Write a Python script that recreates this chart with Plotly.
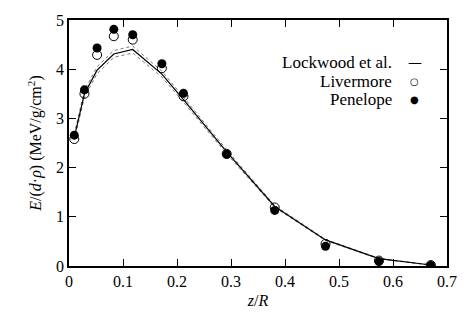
import plotly.graph_objects as go

z = [0.0098, 0.0286, 0.052, 0.083, 0.118, 0.172, 0.212, 0.292, 0.381, 0.475, 0.574, 0.670]
lockwood = [2.62, 3.50, 3.98, 4.31, 4.40, 3.90, 3.38, 2.32, 1.21, 0.53, 0.15, 0.02]
lock_err = [0.06, 0.07, 0.07, 0.07, 0.07, 0.06, 0.05, 0.04, 0.02, 0.01, 0.005, 0.002]
livermore = [2.58, 3.50, 4.29, 4.67, 4.60, 4.02, 3.45, 2.28, 1.19, 0.45, 0.11, 0.02]
penelope = [2.66, 3.58, 4.43, 4.81, 4.70, 4.11, 3.51, 2.27, 1.13, 0.40, 0.09, 0.01]
x_ticks = [0, 0.1, 0.2, 0.3, 0.4, 0.5, 0.6, 0.7]
x_ticklabels = ["0", "0.1", "0.2", "0.3", "0.4", "0.5", "0.6", "0.7"]
y_ticks = [0, 1, 2, 3, 4, 5]
y_ticklabels = ["0", "1", "2", "3", "4", "5"]
legend_names = ["Lockwood et al.", "Livermore", "Penelope"]
legend_syms = ["—", "○", "●"]

FONT = "Liberation Serif"

fig = go.Figure()
upper = [v + e for v, e in zip(lockwood, lock_err)]
lower = [v - e for v, e in zip(lockwood, lock_err)]
for band in (upper, lower):
    fig.add_trace(go.Scatter(x=z, y=band, mode="lines",
                             line=dict(color="#777777", width=1, dash="dot"),
                             showlegend=False, hoverinfo="skip"))
fig.add_trace(go.Scatter(x=z, y=lockwood, mode="lines",
                         line=dict(color="black", width=1.2), showlegend=False))
fig.add_trace(go.Scatter(x=z, y=livermore, mode="markers",
                         marker=dict(symbol="circle-open", size=9, color="black",
                                     line=dict(width=1, color="black")),
                         showlegend=False))
fig.add_trace(go.Scatter(x=z, y=penelope, mode="markers",
                         marker=dict(symbol="circle", size=9, color="black"),
                         showlegend=False))

rows_y = [0.829, 0.751, 0.678]
for name, sym, yy in zip(legend_names, legend_syms, rows_y):
    fig.add_annotation(xref="paper", yref="paper", x=0.861, y=yy, text=name,
                       showarrow=False, xanchor="right", yanchor="middle",
                       font=dict(family=FONT, size=17, color="black"))
    fig.add_annotation(xref="paper", yref="paper", x=0.915, y=yy, text=sym,
                       showarrow=False, xanchor="center", yanchor="middle",
                       font=dict(family="DejaVu Sans", size=10 if sym != "—" else 14,
                                 color="black"))

axis_common = dict(showgrid=False, zeroline=False, showline=True, linecolor="black",
                   linewidth=1.5, mirror="allticks", ticks="inside", ticklen=7,
                   tickcolor="black", tickwidth=1,
                   tickfont=dict(family=FONT, size=16, color="black"))
fig.update_xaxes(range=[0, 0.7], tickvals=x_ticks, ticktext=x_ticklabels,
                 title=dict(text="<i>z</i>/<i>R</i>", font=dict(family=FONT, size=16, color="black"),
                            standoff=6),
                 **axis_common)
fig.update_yaxes(range=[0, 5], tickvals=y_ticks, ticktext=y_ticklabels,
                 title=dict(text="<i>E</i>/(<i>d</i>·<i>ρ</i>) (MeV/g/cm<sup>2</sup>)",
                            font=dict(family=FONT, size=16, color="black"), standoff=10),
                 **axis_common)
fig.update_layout(width=469, height=325, margin=dict(l=69, r=15, t=15, b=59),
                  plot_bgcolor="white", paper_bgcolor="white", showlegend=False,
                  font=dict(family=FONT))
fig.write_html("out.html")
